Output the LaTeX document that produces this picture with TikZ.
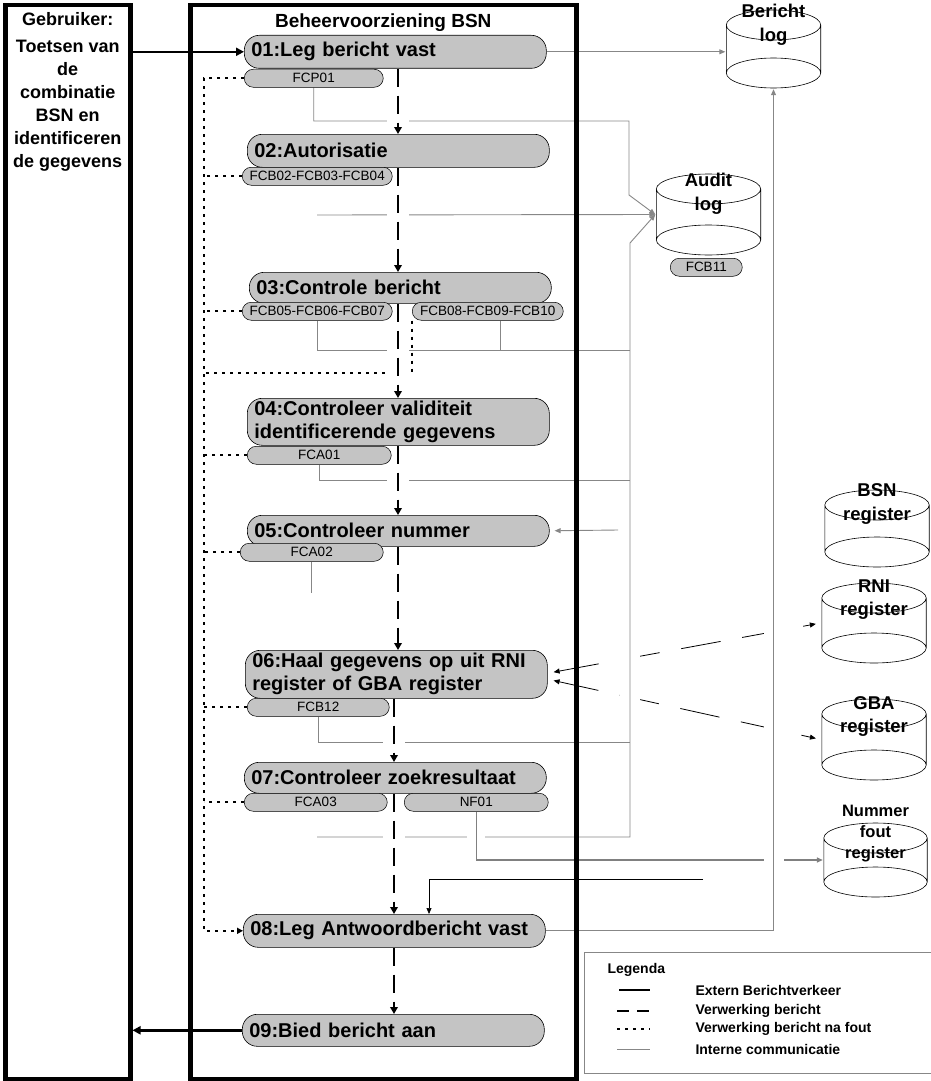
\documentclass[tikz,border=0pt]{standalone}
\usepackage{fontspec}
\setmainfont{Liberation Sans}
\usetikzlibrary{calc,positioning,arrows.meta,backgrounds}

\definecolor{boxgray}{RGB}{196,196,196}
\definecolor{linegray}{RGB}{135,135,135}

\begin{document}
\begin{tikzpicture}[x=1pt, y=-1pt,
		lane/.style={draw=black, line width=4.5pt, anchor=north west, inner sep=0pt},
		proc/.style={draw=black, line width=0.6pt, fill=boxgray, rounded corners=15pt, anchor=north west,
			minimum width=302pt, minimum height=33pt, text width=288pt, align=left, inner xsep=7pt, inner ysep=0pt,
			font=\fontsize{20}{23}\selectfont\bfseries},
		fc/.style={draw=black, line width=0.5pt, fill=boxgray, rounded corners=9pt, anchor=north west,
			minimum height=18pt, inner sep=0pt, font=\fontsize{13.5}{15}\selectfont},
		db/.style={inner sep=0pt, path picture={
			\draw[line width=0.6pt] let \p1=(path picture bounding box.north west), \p2=(path picture bounding box.south east) in
				({(\x1+\x2)/2},{\y1-16pt}) ellipse [x radius={(\x2-\x1)/2-0.8pt}, y radius=15pt]
				({(\x1+\x2)/2},{\y2+16pt}) ellipse [x radius={(\x2-\x1)/2-0.8pt}, y radius=15pt]
				({\x1+0.8pt},{\y1-16pt}) -- ({\x1+0.8pt},{\y2+16pt})
				({\x2-0.8pt},{\y1-16pt}) -- ({\x2-0.8pt},{\y2+16pt});
			}},
		dbtext/.style={align=center, inner sep=0pt, font=\fontsize{18.5}{23.5}\selectfont\bfseries},
		legtext/.style={anchor=west, font=\fontsize{14}{16}\selectfont\bfseries},
		ext/.style={line width=2.4pt, -{Triangle[length=8pt,width=8pt]}},
		verw/.style={line width=1.9pt, dash pattern=on 18pt off 9pt, -{Triangle[length=7pt,width=7.5pt]},
			preaction={draw=white, line width=22pt, solid, arrows=-}},
		fout/.style={line width=1.6pt, dash pattern=on 3pt off 5pt},
		intern/.style={draw=linegray, line width=0.9pt},
		pijl/.style={-{Triangle[length=6pt,width=5pt]}},
		brug/.style={preaction={draw=white, line width=#1, solid, arrows=-}},
		regpijl/.style={line width=0.8pt, dash pattern=on 40pt off 22pt,
			{Triangle[length=6pt,width=5pt]}-{Triangle[length=6pt,width=5pt]}, shorten >=5pt, shorten <=1pt},
	]
	\useasboundingbox (0,0) rectangle (930,1081);

	% banen
	\node[lane, minimum width=125pt, minimum height=1074pt] (gebr) at (3,3) {};
	\node[lane, minimum width=386pt, minimum height=1074pt] (bheer) at (188,3) {};
	\node[align=center, font=\fontsize{18}{23}\selectfont\bfseries, below=6pt of gebr.north] (gebrt)
		{Gebruiker:\\[4pt]Toetsen van\\de\\combinatie\\BSN en\\identificeren\\de gegevens};
	\node[font=\fontsize{19}{23}\selectfont\bfseries, below=7pt of bheer.north] (bheert) {Beheervoorziening BSN};

	% processtappen
	\node[proc] (p01) at (244,35) {01:Leg bericht vast};
	\node[proc] (p02) at (247,134) {02:Autorisatie};
	\node[proc, minimum height=31pt] (p03) at (249,272) {03:Controle bericht};
	\node[proc, minimum height=47pt] (p04) at (247,398) {04:Controleer validiteit\\identificerende gegevens};
	\node[proc, minimum height=31pt] (p05) at (247,515) {05:Controleer nummer};
	\node[proc, minimum height=48pt] (p06) at (245,650) {06:Haal gegevens op uit RNI\\register of GBA register};
	\node[proc, minimum height=31pt] (p07) at (244,762) {07:Controleer zoekresultaat};
	\node[proc] (p08) at (243,914) {08:Leg Antwoordbericht vast};
	\node[proc, minimum height=32pt] (p09) at (242,1014) {09:Bied bericht aan};

	% functiecodes
	\node[fc, minimum width=139pt] (f01) at (244,69) {FCP01};
	\node[fc, minimum width=150pt] (f02) at (242,167) {FCB02-FCB03-FCB04};
	\node[fc, minimum width=150pt] (f03a) at (242,302) {FCB05-FCB06-FCB07};
	\node[fc, minimum width=151pt] (f03b) at (412,302) {FCB08-FCB09-FCB10};
	\node[fc, minimum width=144pt] (f04) at (247,446) {FCA01};
	\node[fc, minimum width=143pt] (f05) at (240,543) {FCA02};
	\node[fc, minimum width=142pt] (f06) at (247,698) {FCB12};
	\node[fc, minimum width=143pt] (f07a) at (244,793) {FCA03};
	\node[fc, minimum width=144pt] (f07b) at (404,793) {NF01};
	\node[fc, minimum width=72pt] (f11) at (670,258) {FCB11};

	% registers
	\node[db, minimum width=96pt, minimum height=80pt] (blog) at (773.5,49) {};
	\node[dbtext] (blogt) at ($(blog.north)+(0,16)$) {Bericht\\log};
	\node[db, minimum width=106pt, minimum height=83pt] (alog) at (708.5,214.5) {};
	\node[dbtext] (alogt) at ($(alog.north)+(0,21)$) {Audit\\log};
	\node[db, minimum width=106pt, minimum height=79pt] (bsn) at (877,528.5) {};
	\node[dbtext] (bsnt) at ($(bsn.north)+(0,15)$) {BSN\\register};
	\node[db, minimum width=106pt, minimum height=82pt] (rni) at (874,623) {};
	\node[dbtext] (rnit) at ($(rni.north)+(0,18)$) {RNI\\register};
	\node[db, minimum width=106pt, minimum height=83pt] (gba) at (874,739.5) {};
	\node[dbtext] (gbat) at ($(gba.north)+(0,18.5)$) {GBA\\register};
	\node[db, minimum width=105pt, minimum height=76pt] (nfr) at (875.5,860) {};
	\node[dbtext, font=\fontsize{16.5}{21}\selectfont\bfseries] (nfrt) at ($(nfr.north)+(0,12)$) {Nummer\\fout\\register};

	% legenda
	\node[draw=linegray, line width=0.8pt, anchor=north west, minimum width=350pt, minimum height=121pt, inner sep=0pt] (leg) at (584,952) {};
	\node[legtext] (legt) at (604,970) {Legenda};
	\node[legtext] (l1) at (692,990) {Extern Berichtverkeer};
	\node[legtext] (l2) at (692,1011) {Verwerking bericht};
	\node[legtext] (l3) at (692,1029) {Verwerking bericht na fout};
	\node[legtext] (l4) at (692,1049) {Interne communicatie};
	\draw[line width=2.4pt] ($(l1.west)+(-73,0)$) -- ++(31,0);
	\draw[line width=1.9pt, dash pattern=on 12pt off 8pt] ($(l2.west)+(-75,0)$) -- ++(33,0);
	\draw[fout] ($(l3.west)+(-75,0)$) -- ++(33,0);
	\draw[intern] ($(l4.west)+(-75,0)$) -- ++(33,0);

	\coordinate (ax) at (398,0);
	\coordinate (bx) at (394,0);
	\coordinate (vx) at (204,0);
	\coordinate (fy) at (0,373);
	\coordinate (k1) at (629,121);
	\coordinate (k2) at (317,215);
	\coordinate (k4) at (618,530);
	\coordinate (k5) at (317,837);
	\coordinate (k6) at (703,879);
	\coordinate (j1) at (630,350);
	\coordinate (j2) at (630,480);
	\coordinate (j3) at (630,742);
	\coordinate (j4) at (630,837);

	\begin{scope}[on background layer]
		% registers RNI en GBA
		\draw[regpijl] ($(p06.east)+(5,-2)$) -- (rni.west);
		\draw[regpijl] ($(p06.east)+(5,6)$) -- (gba.west);

		% interne communicatie
		\draw[intern, pijl, brug=20pt] (k5) -- (j4) -- ++(0,-594) -- (alog.west);
		\draw[intern, pijl] (f01.south) |- (k1) -- ++(0,74) -- (alog.west);
		\draw[intern, pijl] (k2) -- (alog.west);
		\draw[intern] (f03a.south) |- (j1);
		\draw[intern] ($(f03b.south)+(13,0)$) -- ++(0,30);
		\draw[intern] (f04.south) |- (j2);
		\draw[intern] (f05.south) -- ++(0,31);
		\draw[intern, pijl, shorten >=5pt] (k4) -- (p05.east);
		\draw[intern] (f06.south) |- (j3);
		\draw[intern, pijl] (p01.east) -- (p01.east -| blog.west);
		\draw[intern, draw=black, line width=0.7pt, pijl] (k6) -| ($(p08.north west)+(186,0)$);
		\draw[intern, draw=gray, line width=1.4pt, pijl, brug=18pt] (f07b.south) |- (nfr.west);
		\draw[intern, pijl, brug=20pt] (p08.east) -| (blog.south);

		% verwerking bericht na fout
		\draw[fout, -{Triangle[length=6pt,width=6pt]}] (f01.west) -- (f01.west -| vx) -- (p08.west -| vx) -- (p08.west);
		\draw[fout] (f02.west) -- (f02.west -| vx);
		\draw[fout] (f03a.west) -- (f03a.west -| vx);
		\draw[fout] (f03b.south west) -- (f03b.south west |- fy) -- (fy -| vx);
		\draw[fout] (f04.west) -- (f04.west -| vx);
		\draw[fout] (f05.west) -- (f05.west -| vx);
		\draw[fout] (f06.west) -- (f06.west -| vx);
		\draw[fout] (f07a.west) -- (f07a.west -| vx);

		% verwerking bericht
		\draw[verw] (p01.south -| ax) -- (p02.north -| ax);
		\draw[verw] (p02.south -| ax) -- (p03.north -| ax);
		\draw[verw] (p03.south -| ax) -- (p04.north -| ax);
		\draw[verw] (p04.south -| ax) -- (p05.north -| ax);
		\draw[verw] (p05.south -| ax) -- (p06.north -| ax);
		\draw[verw] (p06.south -| bx) -- (p07.north -| bx);
		\draw[verw] (p07.south -| bx) -- (p08.north -| bx);
		\draw[verw] (p08.south -| bx) -- (p09.north -| bx);

		% extern berichtverkeer
		\draw[ext] (p01.west -| gebr.east) -- (p01.west);
		\draw[ext] (p09.west) -- (p09.west -| gebr.east);
	\end{scope}
\end{tikzpicture}
\end{document}
